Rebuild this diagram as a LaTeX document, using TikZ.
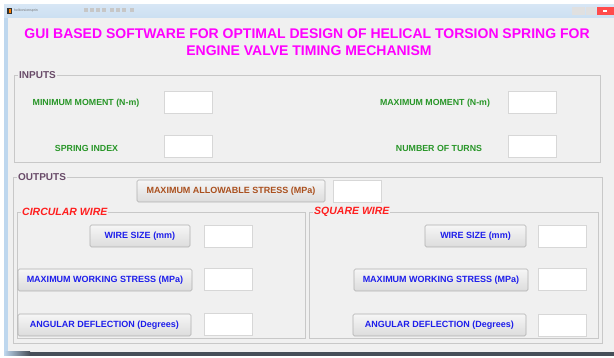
\documentclass[tikz,border=0pt]{standalone}
\usepackage{fontspec}
\setmainfont{Liberation Sans}
\definecolor{bgc}{RGB}{240,240,240}
\definecolor{frameg}{RGB}{200,200,200}
\definecolor{titlemag}{RGB}{255,0,255}
\definecolor{lblgreen}{RGB}{40,150,40}
\definecolor{panelpurple}{RGB}{105,75,105}
\definecolor{btnbrown}{RGB}{170,80,30}
\definecolor{btnblue}{RGB}{30,30,235}
\definecolor{wirered}{RGB}{255,30,30}
\definecolor{winblue}{RGB}{190,215,238}
\definecolor{winbar}{RGB}{215,230,245}
\definecolor{darkbar}{RGB}{70,78,88}
\tikzset{
  panelframe/.style={draw=frameg, line width=0.8pt},
  panellabel/.style={anchor=west, fill=bgc, inner xsep=1pt, inner ysep=0pt, font=\fontsize{10}{12}\selectfont\bfseries, text=panelpurple},
  wirelabel/.style={anchor=west, fill=bgc, inner xsep=1pt, inner ysep=0pt, font=\fontsize{10.5}{12}\selectfont\bfseries\itshape, text=wirered},
  inlabel/.style={font=\fontsize{8.8}{10}\selectfont\bfseries, text=lblgreen, inner sep=0pt},
  editbox/.style={draw={rgb,255:red,215;green,215;blue,215}, fill=white, line width=0.6pt, minimum width=48pt, minimum height=22pt, inner sep=0pt},
  btn/.style={draw={rgb,255:red,175;green,175;blue,175}, line width=0.6pt, rounded corners=1.5pt, top color={rgb,255:red,246;green,246;blue,246}, bottom color={rgb,255:red,220;green,220;blue,220}, minimum height=22pt, inner xsep=2pt, inner ysep=0pt, font=\fontsize{9}{10}\selectfont\bfseries, text=btnblue},
  wintitle/.style={font=\fontsize{14}{16}\selectfont\bfseries, text=titlemag, inner sep=0pt}
}
\begin{document}
\begin{tikzpicture}[x=1pt,y=-1pt]
\useasboundingbox (0,0) rectangle (614,358);
\fill[white] (0,0) rectangle (614,358);
% window chrome
\fill[winblue] (4,5) rectangle (614,355);
\shade[top color=winbar, bottom color=winblue!80!white] (4,5) rectangle (614,18);
\fill[bgc] (8,18) rectangle (614,352);
\shade[left color=winblue, right color=darkbar] (4,352) rectangle (30,356);
\fill[darkbar] (30,352) rectangle (614,356);
% title bar items
\fill[black!80] (7,8) rectangle (12,14);
\fill[orange] (8.5,9) rectangle (11,13);
\node[anchor=west, inner sep=0pt, font=\fontsize{3.5}{4}\selectfont, text=black!55] (apptitle) at (14,11) {helitorsionsprin};
\foreach \xx in {84,90,96,102,110,116,122,130} {\fill[black!22] (\xx,8.5) rectangle ++(4,4);}
\fill[black!12] (572,7) rectangle (585,15);
\fill[black!12] (586,7) rectangle (596,15);
\fill[red!70!white] (597,7) rectangle (614,15);
\fill[white] (603,10) rectangle (607,12);
% heading
\node[wintitle] (title1) at (307,34) {GUI BASED SOFTWARE FOR OPTIMAL DESIGN OF HELICAL TORSION SPRING FOR};
\node[wintitle] (title2) at (309,51) {ENGINE VALVE TIMING MECHANISM};
% INPUTS panel
\draw[panelframe] (14,75) rectangle (600,162);
\node[panellabel] (inputs) at (18,75) {INPUTS};
\node[inlabel] (minlbl) at (86,103) {MINIMUM MOMENT (N-m)};
\node[editbox] (minbox) at (188,102) {};
\node[inlabel] (silbl) at (86.5,148) {SPRING INDEX};
\node[editbox] (sibox) at (188,146.5) {};
\node[inlabel] (maxlbl) at (435,103) {MAXIMUM MOMENT (N-m)};
\node[editbox] (maxbox) at (532,102) {};
\node[inlabel] (turnlbl) at (439,148) {NUMBER OF TURNS};
\node[editbox] (turnbox) at (532,146.5) {};
% OUTPUTS panel
\draw[panelframe] (13,177) rectangle (602,343);
\node[panellabel] (outputs) at (17,177) {OUTPUTS};
\node[btn, text=btnbrown, minimum width=188pt] (allowbtn) at (231,191) {MAXIMUM ALLOWABLE STRESS (MPa)};
\node[editbox] (allowbox) at (357,191) {};
% circular wire
\draw[panelframe] (17,212) rectangle (305,338);
\node[wirelabel] (circ) at (21,212) {CIRCULAR WIRE};
\node[btn, minimum width=100pt] (cwsbtn) at (140,236) {WIRE SIZE (mm)};
\node[editbox] (cwsbox) at (228,236) {};
\node[btn, minimum width=174pt] (cmwbtn) at (105,280) {MAXIMUM WORKING STRESS (MPa)};
\node[editbox] (cmwbox) at (228,279) {};
\node[btn, minimum width=173pt] (cadbtn) at (104.5,325) {ANGULAR DEFLECTION (Degrees)};
\node[editbox] (cadbox) at (228,324.5) {};
% square wire
\draw[panelframe] (309,212) rectangle (598,338);
\node[wirelabel] (sq) at (313,212) {SQUARE WIRE};
\node[btn, minimum width=101pt] (swsbtn) at (475.5,236) {WIRE SIZE (mm)};
\node[editbox] (swsbox) at (562.5,236) {};
\node[btn, minimum width=174pt] (smwbtn) at (441,280) {MAXIMUM WORKING STRESS (MPa)};
\node[editbox] (smwbox) at (562.5,279) {};
\node[btn, minimum width=173pt] (sadbtn) at (439.5,325) {ANGULAR DEFLECTION (Degrees)};
\node[editbox] (sadbox) at (562.5,325) {};
\end{tikzpicture}
\end{document}
